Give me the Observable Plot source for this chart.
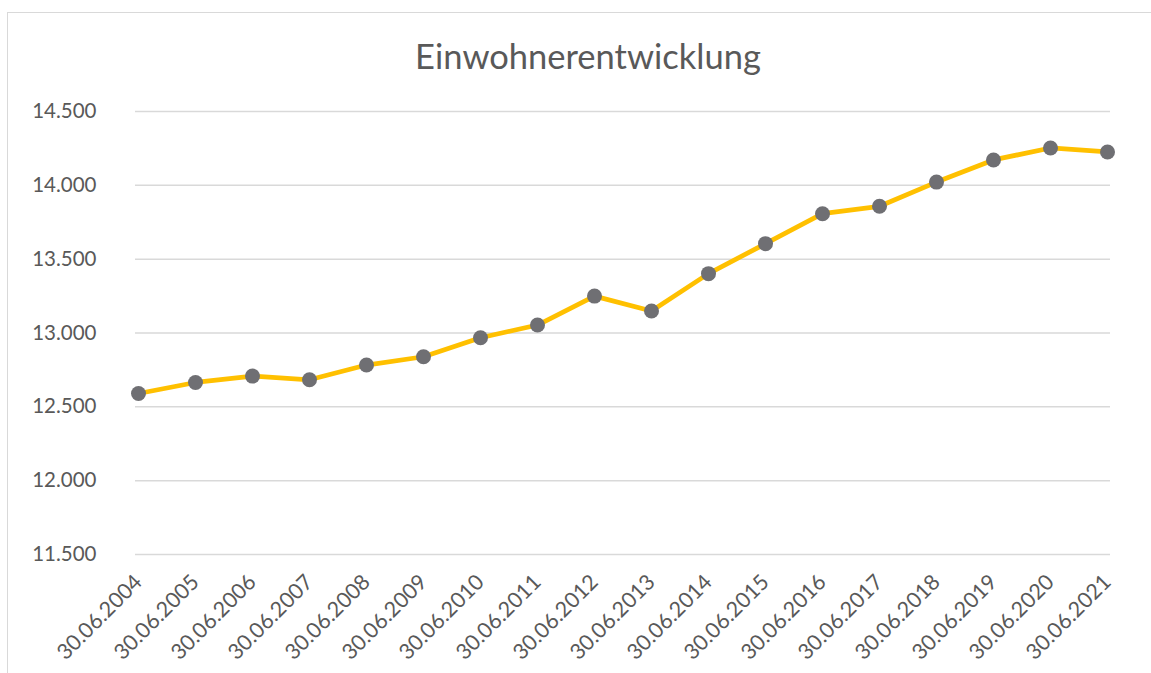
<!DOCTYPE html>
<html>
<head>
<meta charset="utf-8">
<script src="https://cdn.jsdelivr.net/npm/d3@7"></script>
<script src="https://cdn.jsdelivr.net/npm/@observablehq/plot@0.6"></script>
<style>
  html, body { margin: 0; padding: 0; background: #fff; overflow: hidden; }
  #wrap { position: relative; width: 1151px; height: 673px; }
  #border { position: absolute; left: 7px; top: 12px; width: 1200px; height: 700px; border: 1.5px solid #d9d9d9; box-sizing: border-box; }
  #chart { position: absolute; left: 0; top: 0; }
</style>
</head>
<body>
<div id="wrap"><div id="border"></div><div id="chart"></div></div>
<script>
const title = "Einwohnerentwicklung";
const dates = ["30.06.2004","30.06.2005","30.06.2006","30.06.2007","30.06.2008","30.06.2009","30.06.2010","30.06.2011","30.06.2012","30.06.2013","30.06.2014","30.06.2015","30.06.2016","30.06.2017","30.06.2018","30.06.2019","30.06.2020","30.06.2021"];
const einwohner = [12590,12665,12708,12683,12783,12839,12968,13054,13250,13149,13402,13605,13808,13858,14022,14172,14253,14226];
const yTicks = [11500,12000,12500,13000,13500,14000,14500];

const data = dates.map((d, i) => ({date: d, value: einwohner[i]}));
const de = d3.formatLocale({decimal: ",", thousands: ".", grouping: [3], currency: ["", " €"]});
const fmt = de.format(",d");

const chart = Plot.plot({
  width: 1151,
  height: 673,
  marginLeft: 135,
  marginRight: 41,
  marginTop: 111,
  marginBottom: 119,
  style: {fontFamily: "Lato, sans-serif", fontSize: "20px", color: "#595959", background: "transparent"},
  x: {type: "point", domain: dates, padding: 0, label: null},
  y: {domain: [11500, 14500], label: null},
  marks: [
    Plot.ruleY(yTicks, {stroke: "#d9d9d9", strokeWidth: 1.5}),
    Plot.axisY({ticks: yTicks, tickFormat: fmt, tickSize: 0, tickPadding: 39, fill: "#595959", fontSize: 20.5}),
    Plot.axisX({tickSize: 0, tickRotate: -45, tickPadding: 24, fill: "#595959", fontSize: 21.5}),
    Plot.line(data, {x: "date", y: "value", stroke: "#FFC000", strokeWidth: 4.75, strokeLinejoin: "round"}),
    Plot.dot(data, {x: "date", y: "value", r: 7.5, fill: "#6f6f73", stroke: "none"}),
    Plot.text([title], {frameAnchor: "top", lineAnchor: "middle", dx: -35, dy: -54, fontSize: 34.5, fill: "#595959", textAnchor: "middle"})
  ]
});
document.getElementById("chart").appendChild(chart);
</script>
</body>
</html>
